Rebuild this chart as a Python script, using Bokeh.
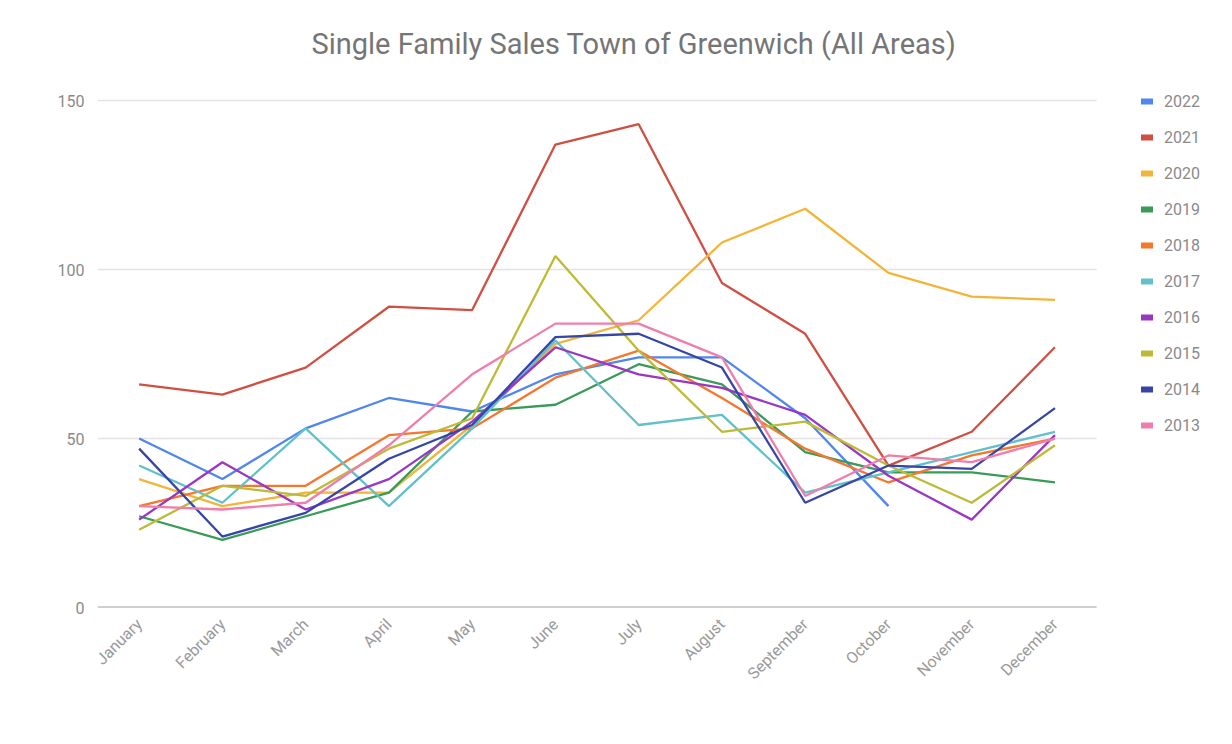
import math
from bokeh.plotting import figure
from bokeh.models import Legend, LegendItem, ColumnDataSource, Title, FixedTicker
from bokeh.embed import file_html
from bokeh.resources import INLINE

months = ["January", "February", "March", "April", "May", "June", "July",
          "August", "September", "October", "November", "December"]

years = ["2022", "2021", "2020", "2019", "2018", "2017", "2016", "2015", "2014", "2013"]

s2022 = [50, 38, 53, 62, 58, 69, 74, 74, 56, 30]
s2021 = [66, 63, 71, 89, 88, 137, 143, 96, 81, 42, 52, 77]
s2020 = [38, 30, 34, 34, 54, 78, 85, 108, 118, 99, 92, 91]
s2019 = [27, 20, 27, 34, 58, 60, 72, 66, 46, 40, 40, 37]
s2018 = [30, 36, 36, 51, 53, 68, 76, 62, 47, 37, 45, 50]
s2017 = [42, 31, 53, 30, 53, 79, 54, 57, 34, 40, 46, 52]
s2016 = [26, 43, 29, 38, 55, 77, 69, 65, 57, 39, 26, 51]
s2015 = [23, 36, 33, 47, 56, 104, 76, 52, 55, 42, 31, 48]
s2014 = [47, 21, 28, 44, 54, 80, 81, 71, 31, 42, 41, 59]
s2013 = [30, 29, 31, 48, 69, 84, 84, 74, 33, 45, 43, 50]

series = [s2022, s2021, s2020, s2019, s2018, s2017, s2016, s2015, s2014, s2013]
colors = ["#4f86f0", "#cf5042", "#f2b53a", "#3a9a58", "#f5772e", "#62c1c8",
          "#9a36c4", "#bdbb36", "#3646a8", "#ef7eac"]

y_ticks = [0, 50, 100, 150]
title_text = "Single Family Sales Town of Greenwich (All Areas)"

n = len(months)
x_idx = list(range(n))
x_lo, x_hi = -0.5, n - 0.5

# frame extends 30px above the 150 gridline so the legend is not clipped
p = figure(width=1216, height=728, x_range=(x_lo, 12.94), y_range=(0, 158.9),
           output_backend="svg", toolbar_location=None,
           min_border_left=97, min_border_right=0,
           min_border_top=70, min_border_bottom=121)
p.outline_line_color = None
p.background_fill_color = "white"
p.border_fill_color = "white"

p.title = Title(text=title_text, align="left", offset=214,
                text_font="Roboto", text_font_size="29px",
                text_font_style="normal", text_color="#757575", standoff=19)

# y axis
p.yaxis.ticker = y_ticks
p.yaxis.axis_line_color = None
p.yaxis.major_tick_line_color = None
p.yaxis.minor_tick_line_color = None
p.yaxis.major_label_text_font = "Roboto"
p.yaxis.major_label_text_font_size = "16px"
p.yaxis.major_label_text_color = "#8a8a8a"
p.yaxis.major_label_standoff = 7

# x axis (month labels)
p.xaxis.ticker = FixedTicker(ticks=x_idx)
p.xaxis.major_label_overrides = {i: m for i, m in enumerate(months)}
p.xaxis.axis_line_color = None
p.xaxis.major_tick_line_color = None
p.xaxis.minor_tick_line_color = None
p.xaxis.major_label_orientation = math.pi / 4
p.xaxis.major_label_text_font = "Roboto"
p.xaxis.major_label_text_font_size = "16px"
p.xaxis.major_label_text_color = "#9a9a9a"
p.xaxis.major_label_standoff = 8

p.xgrid.grid_line_color = None
p.ygrid.grid_line_color = None

# horizontal gridlines limited to the data area
grid_y = y_ticks[1:]
p.segment(x0=[x_lo] * len(grid_y), x1=[x_hi] * len(grid_y), y0=grid_y, y1=grid_y,
          line_color="#e3e3e3", line_width=1.5)
# baseline
p.segment(x0=[x_lo], x1=[x_hi], y0=[0], y1=[0], line_color="#a0a0a0", line_width=2)

items = []
for yr, vals, col in zip(years, series, colors):
    src = ColumnDataSource(dict(x=x_idx[:len(vals)], y=vals))
    p.line("x", "y", source=src, line_color=col, line_width=2.3)
    swatch = p.line("x", "y", source=src, line_color=col, line_width=6,
                    line_cap="round", visible=False)
    items.append(LegendItem(label=yr, renderers=[swatch]))

legend = Legend(items=items, location=(1044, 172), padding=0, margin=0,
                spacing=16, glyph_width=12, glyph_height=20, label_height=20,
                label_standoff=11, label_text_font="Roboto",
                label_text_font_size="16px", label_text_color="#8a8a8a",
                background_fill_alpha=0, border_line_color=None)
p.add_layout(legend, "center")

open("out.html", "w").write(file_html(p, INLINE))
